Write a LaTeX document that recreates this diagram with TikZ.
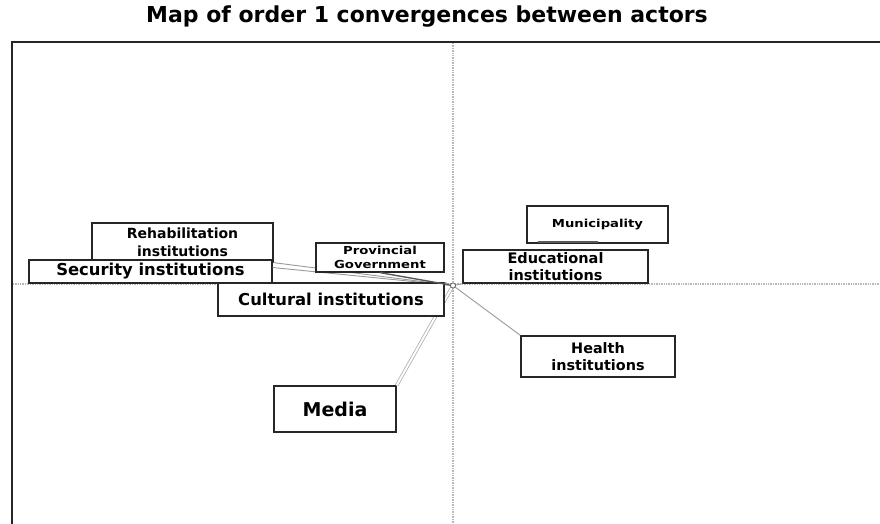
\documentclass[tikz,border=0pt]{standalone}
\usepackage{fontspec}
\setmainfont{DejaVu Sans}
\begin{document}
\begin{tikzpicture}[x=1pt,y=-1pt,
  actor/.style={draw=black!85,line width=1.3pt,fill=white,inner sep=0pt,align=center,font=\bfseries},
  axisline/.style={draw=black!28,line width=1.6pt,dash pattern=on 1pt off 0.7pt},
  link/.style={draw=black!40,line width=0.9pt},
  darklink/.style={draw=black!65,line width=1.4pt},
  frameline/.style={draw=black!85,line width=1.8pt}]
\useasboundingbox (0,0) rectangle (880,524);
% title
\node[font=\fontsize{22}{26}\selectfont\bfseries] (title) at (427,17) {Map of order 1 convergences between actors};
% frame
\coordinate (fbl) at (12,524);
\coordinate (ftl) at (12,42);
\coordinate (ftr) at (880,42);
\draw[frameline] (fbl) -- (ftl) -- (ftr);
% axes
\coordinate (vt) at (453,43);
\coordinate (vb) at (453,524);
\coordinate (hl) at (13,284);
\coordinate (hr) at (880,284);
\draw[axisline] (vt) -- (vb);
\draw[axisline] (hl) -- (hr);
% origin
\coordinate (o) at (453,285.5);
% actors
\node[actor,minimum width=181pt,minimum height=39pt,font=\fontsize{14}{18}\selectfont\bfseries] (rehab) at (182.5,242.5) {Rehabilitation\\institutions};
\node[actor,minimum width=243pt,minimum height=23pt,font=\fontsize{16.4}{18}\selectfont\bfseries] (security) at (150.5,271.5) {Security institutions};
\node[actor,minimum width=141pt,minimum height=37pt,font=\fontsize{11}{14}\selectfont\bfseries] (muni) at (597.5,224.5) {\scalebox{1.2}[1]{Municipality}};
\node[actor,minimum width=185pt,minimum height=33pt,font=\fontsize{14.5}{17}\selectfont\bfseries] (edu) at (555.5,266.5) {Educational\\institutions};
\node[actor,minimum width=154pt,minimum height=41pt,font=\fontsize{14.4}{17}\selectfont\bfseries] (health) at (598,356.5) {Health\\institutions};
\node[actor,minimum width=122pt,minimum height=46pt,font=\fontsize{19}{22}\selectfont\bfseries] (media) at (335,409) {Media};
% links
\draw[link] (rehab.south east) -- (o);
\draw[link] ([yshift=4pt]security.east) -- (o);
\draw[link] (edu.south west) -- (o);
\draw[link] (health.north west) -- (o);
\draw[link,draw=black!35,double=white,double distance=2pt,line width=0.7pt] (media.north east) -- (o);
\draw[darklink,line width=2pt] ([xshift=-60pt,yshift=1.5pt]muni.south) -- ([yshift=1.5pt]muni.south);
% boxes drawn over the links
\node[actor,minimum width=128pt,minimum height=29pt,font=\fontsize{11}{14}\selectfont\bfseries] (prov) at (380,257.5) {\scalebox{1.2}[1]{Provincial}\\\scalebox{1.2}[1]{Government}};
\node[actor,minimum width=226pt,minimum height=33pt,font=\fontsize{16.4}{18}\selectfont\bfseries] (cultural) at (331,299.5) {Cultural institutions};
\draw[darklink] (prov.south) -- (o);
\draw[link] (cultural.north east) -- (o);
\draw[black!60,line width=0.9pt,fill=white] (o) circle (2.6pt);
\end{tikzpicture}
\end{document}
